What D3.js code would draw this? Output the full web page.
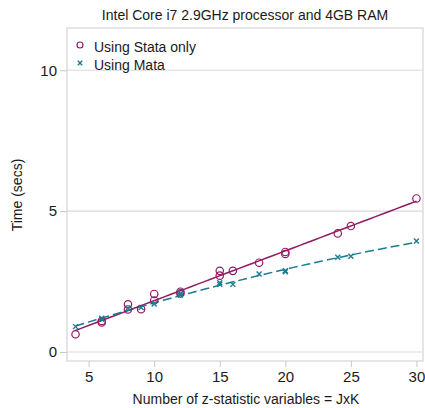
<!DOCTYPE html>
<html>
<head>
<meta charset="utf-8">
<script src="https://cdn.jsdelivr.net/npm/d3@7"></script>
<style>
  body { margin: 0; background: #fff; }
  svg text { font-family: "Liberation Sans", Arial, sans-serif; fill: #1a1a1a; }
</style>
</head>
<body>
<svg id="chart" width="425" height="408"></svg>
<script>
// values
const stataX = [4, 6, 6, 8, 8, 9, 10, 10, 12, 12, 15, 15, 16, 18, 20, 20, 24, 25, 30];
const stataY = [0.63, 1.05, 1.1, 1.69, 1.51, 1.52, 2.06, 1.83, 2.14, 2.08, 2.88, 2.71, 2.88, 3.17, 3.48, 3.55, 4.21, 4.47, 5.45];
const mataX = [4, 6, 6, 8, 9, 10, 12, 12, 15, 15, 16, 18, 20, 20, 24, 25, 30];
const mataY = [0.9, 1.16, 1.2, 1.55, 1.58, 1.7, 2.08, 2.02, 2.46, 2.4, 2.4, 2.77, 2.85, 2.88, 3.36, 3.4, 3.94];
const xTicks = [5, 10, 15, 20, 25, 30];
const yTicks = [0, 5, 10];
const legendLabels = ["Using Stata only", "Using Mata"];

const STATA_COL = "#921a62";
const MATA_COL = "#1b7c90";

const svg = d3.select("#chart");
const x = d3.scaleLinear().domain([3.35, 30.5]).range([67, 423]);
const y = d3.scaleLinear().domain([-0.32, 11.5]).range([361, 28]);

// title
svg.append("text")
  .attr("x", 245).attr("y", 20)
  .attr("text-anchor", "middle")
  .style("font-size", "14px")
  .text("Intel Core i7 2.9GHz processor and 4GB RAM");

// gridlines
svg.append("g").selectAll("line").data(yTicks).enter().append("line")
  .attr("x1", 67).attr("x2", 423)
  .attr("y1", d => y(d)).attr("y2", d => y(d))
  .attr("stroke", "#dadada").attr("stroke-width", 1.2);

// plot region border
svg.append("rect")
  .attr("x", 67).attr("y", 28).attr("width", 356).attr("height", 333)
  .attr("fill", "none").attr("stroke", "#dadada").attr("stroke-width", 1.4);

// axes
const yAxis = d3.axisLeft(y).tickValues(yTicks).tickSize(7).tickPadding(3).tickFormat(d3.format("d"));
const yg = svg.append("g").attr("transform", "translate(67,0)").call(yAxis);
const xAxis = d3.axisBottom(x).tickValues(xTicks).tickSize(6).tickPadding(4).tickFormat(d3.format("d"));
const xg = svg.append("g").attr("transform", "translate(0,361)").call(xAxis);
[yg, xg].forEach(g => {
  g.select(".domain").remove();
  g.selectAll(".tick line").attr("stroke", "#c8c8c8");
  g.selectAll(".tick text").style("font-size", "15px").attr("fill", "#1a1a1a");
});

// axis titles
svg.append("text")
  .attr("x", 246).attr("y", 404)
  .attr("text-anchor", "middle")
  .style("font-size", "14px")
  .text("Number of z-statistic variables = JxK");
svg.append("text")
  .attr("transform", "translate(22,195) rotate(-90)")
  .attr("text-anchor", "middle")
  .style("font-size", "14px")
  .text("Time (secs)");

// quadratic least-squares fit (like Stata's qfit)
function qfit(xs, ys) {
  const s = k => d3.sum(xs, v => Math.pow(v, k));
  const t = k => d3.sum(xs, (v, i) => Math.pow(v, k) * ys[i]);
  const A = [[s(0), s(1), s(2)], [s(1), s(2), s(3)], [s(2), s(3), s(4)]];
  const b = [t(0), t(1), t(2)];
  // gaussian elimination
  for (let c = 0; c < 3; c++) {
    for (let r = c + 1; r < 3; r++) {
      const f = A[r][c] / A[c][c];
      for (let k = c; k < 3; k++) A[r][k] -= f * A[c][k];
      b[r] -= f * b[c];
    }
  }
  const co = [0, 0, 0];
  for (let r = 2; r >= 0; r--) {
    let acc = b[r];
    for (let k = r + 1; k < 3; k++) acc -= A[r][k] * co[k];
    co[r] = acc / A[r][r];
  }
  const [lo, hi] = d3.extent(xs);
  return d3.range(0, 51).map(i => {
    const v = lo + (hi - lo) * i / 50;
    return [v, co[0] + co[1] * v + co[2] * v * v];
  });
}

const line = d3.line().x(d => x(d[0])).y(d => y(d[1]));

svg.append("path")
  .datum(qfit(stataX, stataY))
  .attr("d", line)
  .attr("fill", "none").attr("stroke", STATA_COL).attr("stroke-width", 1.5);

svg.append("path")
  .datum(qfit(mataX, mataY))
  .attr("d", line)
  .attr("fill", "none").attr("stroke", MATA_COL).attr("stroke-width", 1.5)
  .attr("stroke-dasharray", "9,4");

// markers
svg.append("g").selectAll("circle").data(stataX).enter().append("circle")
  .attr("cx", d => x(d))
  .attr("cy", (d, i) => y(stataY[i]))
  .attr("r", 3.7)
  .attr("fill", "none").attr("stroke", STATA_COL).attr("stroke-width", 1.2);

const crossPath = s => `M${-s},${-s}L${s},${s}M${-s},${s}L${s},${-s}`;
svg.append("g").selectAll("path").data(mataX).enter().append("path")
  .attr("transform", (d, i) => `translate(${x(d)},${y(mataY[i])})`)
  .attr("d", crossPath(2.5))
  .attr("stroke", MATA_COL).attr("stroke-width", 1.4).attr("fill", "none");

// legend
const lg = svg.append("g");
lg.append("circle").attr("cx", 80).attr("cy", 45).attr("r", 3)
  .attr("fill", "none").attr("stroke", STATA_COL).attr("stroke-width", 1.2);
lg.append("path").attr("transform", "translate(80,63)").attr("d", crossPath(2.2))
  .attr("stroke", MATA_COL).attr("stroke-width", 1.4);
lg.selectAll("text").data(legendLabels).enter().append("text")
  .attr("x", 94).attr("y", (d, i) => 52 + i * 18)
  .style("font-size", "14px")
  .text(d => d);
</script>
</body>
</html>
